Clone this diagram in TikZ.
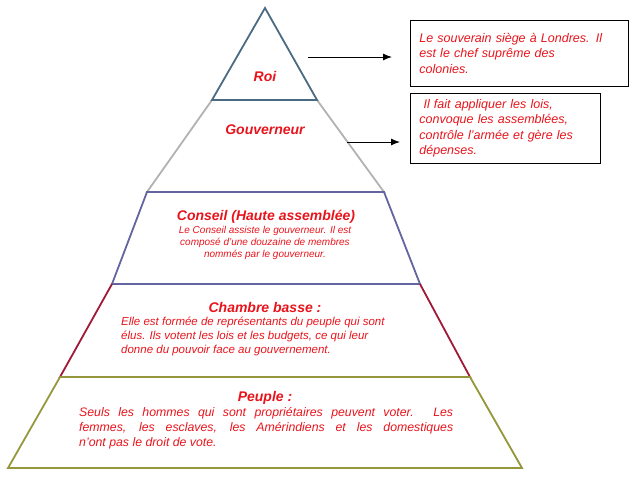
\documentclass[tikz,border=0pt]{standalone}
\usepackage{fontspec}
\setmainfont{Liberation Sans}
\usetikzlibrary{arrows.meta}
\definecolor{tred}{HTML}{E8141C}
\tikzset{
 lvl/.style={line width=1.8pt},
 ttl/.style={text=tred,font=\bfseries\itshape\fontsize{14}{16}\selectfont,inner sep=0pt},
 body/.style={text=tred,font=\itshape\fontsize{11.5}{14}\selectfont,align=left,inner sep=0pt},
 box/.style={draw=black,line width=0.8pt,text=tred,font=\itshape\fontsize{12.5}{15.5}\selectfont,align=left,inner xsep=9pt,inner ysep=3pt,anchor=north west},
 arr/.style={-{Latex[length=9pt,width=7pt]},line width=1pt}
}
\begin{document}
\begin{tikzpicture}[x=1pt,y=-1pt]
\useasboundingbox (0,0) rectangle (638,480);
\draw[lvl,draw=gray!60] (212,100) -- (147,192) -- (384,192) -- (317,100);
\draw[lvl,draw={rgb,255:red,74;green,107;blue,130}] (212,100) -- (265,8) -- (317,100) -- cycle;
\draw[lvl,draw={rgb,255:red,100;green,100;blue,160}] (147,192) -- (112,284) -- (420,284) -- (384,192) -- cycle;
\draw[lvl,draw={rgb,255:red,160;green,25;blue,55}] (112,284) -- (60,377) -- (470,377) -- (420,284);
\draw[lvl,draw={rgb,255:red,150;green,150;blue,60}] (60,377) -- (8,468) -- (522,468) -- (470,377) -- cycle;
\node[ttl] (roi) at (265,76) {Roi};
\node[ttl] (gouv) at (265,130) {Gouverneur};
\node[ttl] (cons) at (266,217) {Conseil (Haute assemblée)};
\node[body,font=\itshape\fontsize{10}{12}\selectfont,align=center,anchor=north] (consb) at (265,226) {Le Conseil assiste le gouverneur. Il est\\composé d'une douzaine de membres\\nommés par le gouverneur.};
\node[ttl] (ch) at (265,307) {Chambre basse :};
\node[body,anchor=north west] (chb) at (121,317) {Elle est formée de représentants du peuple qui sont\\élus. Ils votent les lois et les budgets, ce qui leur\\donne du pouvoir face au gouvernement.};
\node[ttl] (peu) at (265,398) {Peuple :};
\node[body,font=\itshape\fontsize{12.3}{15}\selectfont,anchor=north west,text width=374pt,align=justify] (peub) at (79,407) {Seuls les hommes qui sont propriétaires peuvent voter. Les\linebreak femmes, les esclaves, les Amérindiens et les domestiques\linebreak n'ont pas le droit de vote.};
\node[box,text width=200pt,minimum height=66pt] (b1) at (410,20) {Le souverain siège à Londres. Il\\est le chef suprême des\\colonies.};
\node[box,text width=172pt,minimum height=70pt] (b2) at (410,93) {\ Il fait appliquer les lois,\\convoque les assemblées,\\contrôle l'armée et gère les\\dépenses.};
\coordinate (a1) at (308,57);
\coordinate (a2) at (347,142);
\draw[arr] (a1) -- ([xshift=-18pt]a1 -| b1.west);
\draw[arr] (a2) -- ([xshift=-10pt]a2 -| b2.west);
\end{tikzpicture}
\end{document}
